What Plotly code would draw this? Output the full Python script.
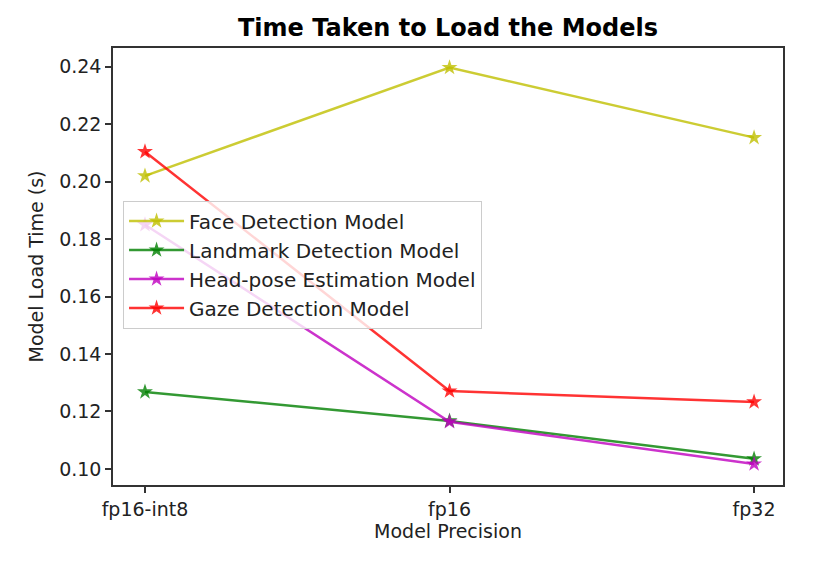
import plotly.graph_objects as go

categories = ["fp16-int8", "fp16", "fp32"]
face = [0.202, 0.2397, 0.2153]
landmark = [0.1268, 0.1167, 0.1035]
headpose = [0.185, 0.1164, 0.1017]
gaze = [0.2104, 0.1271, 0.1233]

series = [
    ("Face Detection Model", face, "rgba(191,191,0,0.8)"),
    ("Landmark Detection Model", landmark, "rgba(0,128,0,0.8)"),
    ("Head-pose Estimation Model", headpose, "rgba(191,0,191,0.8)"),
    ("Gaze Detection Model", gaze, "rgba(255,0,0,0.8)"),
]

fig = go.Figure()
for i, (name, vals, col) in enumerate(series):
    fig.add_trace(go.Scatter(
        x=list(range(len(categories))), y=vals, name=name, mode="lines+markers",
        legendgroup=f"g{i}",
        line=dict(color=col, width=2.5),
        marker=dict(symbol="star", size=12, color=col),
    ))

axis_common = dict(
    showline=True, linecolor="#333333", linewidth=1.5, mirror=True,
    ticks="outside", ticklen=6, tickwidth=1.5, tickcolor="#333333", showgrid=False, zeroline=False,
    tickfont=dict(family="DejaVu Sans", size=19, color="#222222"),
)
fig.update_layout(
    width=826, height=566,
    margin=dict(l=113, r=43, t=48, b=81),
    paper_bgcolor="white", plot_bgcolor="white",
    title=dict(text="<b>Time Taken to Load the Models</b>", x=0.5, xanchor="center",
               y=1 - 28 / 566, yanchor="middle", yref="container",
               xref="paper", font=dict(family="DejaVu Sans", size=24, color="black")),
    font=dict(family="DejaVu Sans", size=19, color="#222222"),
    xaxis=dict(axis_common, range=[-0.105, 2.095], tickvals=[0, 1, 2], ticktext=categories,
               title=dict(text="Model Precision", standoff=0, font=dict(size=19))),
    yaxis=dict(axis_common, range=[0.0944, 0.2465], tickvals=[0.10, 0.12, 0.14, 0.16, 0.18, 0.20, 0.22, 0.24],
               tickformat=".2f",
               title=dict(text="Model Load Time (s)", standoff=10, font=dict(size=19))),
    legend=dict(x=0.015, y=0.651, xanchor="left", yanchor="top",
                bgcolor="rgba(255,255,255,0.8)", bordercolor="#cccccc", borderwidth=1,
                font=dict(family="DejaVu Sans", size=20, color="#222222"),
                tracegroupgap=0, itemwidth=55),
    showlegend=True,
)

fig.write_html("out.html")
